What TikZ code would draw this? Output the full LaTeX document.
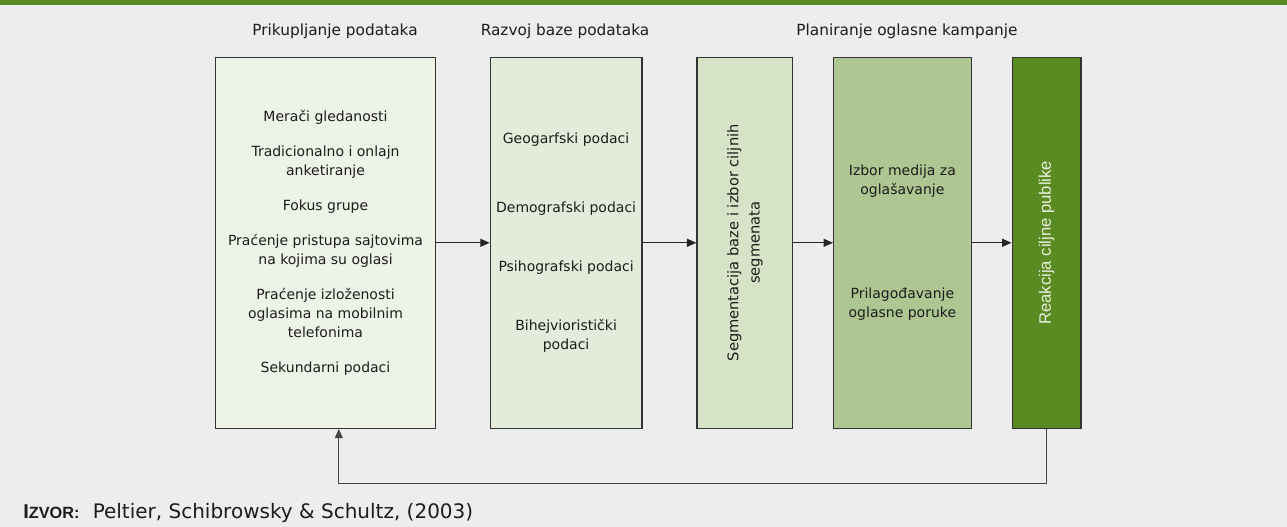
\documentclass[tikz,border=0pt]{standalone}
\usepackage{fontspec}
\setmainfont{DejaVu Sans}
\newfontfamily\arialfont{Liberation Sans}
\usetikzlibrary{arrows.meta, positioning}
\definecolor{bggray}{HTML}{ECEDEC}
\definecolor{topgreen}{HTML}{5B8C23}
\definecolor{boxline}{HTML}{333333}
\definecolor{txtdark}{HTML}{1C1C1C}
\definecolor{arrowdark}{HTML}{252525}
\definecolor{fbgray}{HTML}{454545}
\definecolor{fillA}{HTML}{EEF3E8}
\definecolor{fillB}{HTML}{E3ECDB}
\definecolor{fillC}{HTML}{D7E3C6}
\definecolor{fillD}{HTML}{AEC692}
\definecolor{fillE}{HTML}{5A8B22}
\definecolor{txtlight}{HTML}{E8F0DC}
\tikzset{
	sbox/.style={draw=boxline, line width=0.9pt, align=center, inner sep=0pt,
		font=\fontsize{10.5}{14.25}\selectfont, text=txtdark, minimum height=278.25pt},
	shead/.style={font=\fontsize{11.5}{14}\selectfont, text=txtdark, inner sep=0pt},
	sarr/.style={-{Triangle[length=7pt, width=6pt]}, line width=0.9pt, draw=arrowdark},
	sfb/.style={-{Triangle[length=7pt, width=6pt]}, line width=0.8pt, draw=fbgray}
}

\begin{document}
\begin{tikzpicture}[x=0.75pt, y=-0.75pt]
	% background and top band
	\fill[bggray] (0,0) rectangle (1287,527);
	\fill[topgreen] (0,0) rectangle (1287,5);
	% headings
	\node[shead] (h1) at (335,31) {Prikupljanje podataka};
	\node[shead] (h2) at (565,31) {Razvoj baze podataka};
	\node[shead] (h3) at (907,31) {Planiranje oglasne kampanje};
	% stages
	\node[sbox, fill=fillA, minimum width=164.7pt] (a) at (325.5,242.8) {Merači gledanosti\\[12pt]
		Tradicionalno i onlajn\\anketiranje\\[12pt]
		Fokus grupe\\[12pt]
		Praćenje pristupa sajtovima\\na kojima su oglasi\\[12pt]
		Praćenje izloženosti\\oglasima na mobilnim\\telefonima\\[12pt]
		Sekundarni podaci};
	\node[sbox, fill=fillB, minimum width=113.8pt, right=40.3pt of a] (b) {Geogarfski podaci\\[37.5pt]
		Demografski podaci\\[29.5pt]
		Psihografski podaci\\[30pt]
		Bihejvioristički\\podaci};
	\node[sbox, fill=fillC, minimum width=71.8pt, right=40.3pt of b, font=\fontsize{11}{16}\selectfont] (c)
		{\rotatebox{90}{\begin{tabular}{@{}c@{}}Segmentacija baze i izbor ciljnih\\segmenata\end{tabular}}};
	\node[sbox, fill=fillD, minimum width=103.2pt, right=29.8pt of c] (d) {Izbor medija za\\oglašavanje\\[63.75pt]
		Prilagođavanje\\oglasne poruke};
	\node[sbox, fill=fillE, minimum width=51.6pt, right=29.8pt of d, text=txtlight] (e)
		{\rotatebox{90}{\arialfont\fontsize{12.5}{15}\selectfont Reakcija ciljne publike}};
	\draw[sarr] (a) -- (b);
	\draw[sarr] (b) -- (c);
	\draw[sarr] (c) -- (d);
	\draw[sarr] (d) -- (e);
	% feedback loop
	\draw[sfb] (e.south) -- ++(0,55) -| ([xshift=10pt]a.south);
	% source
	\node[anchor=base west, inner sep=0pt, font=\fontsize{15}{18}\selectfont, text=txtdark] (src) at (23,518)
		{{\arialfont\bfseries I\fontsize{12.2}{14}\selectfont ZVOR:}\hspace{10pt}Peltier, Schibrowsky \& Schultz, (2003)};
\end{tikzpicture}
\end{document}
